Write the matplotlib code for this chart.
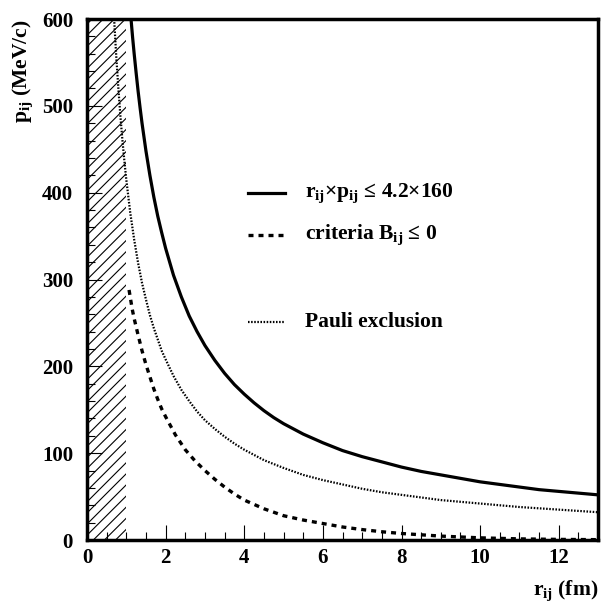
import matplotlib
matplotlib.use("Agg")
import matplotlib.pyplot as plt

plt.rcParams["font.family"] = "Liberation Serif"
plt.rcParams["font.weight"] = "bold"
plt.rcParams["mathtext.fontset"] = "custom"
plt.rcParams["mathtext.rm"] = "Liberation Serif:bold"
plt.rcParams["mathtext.it"] = "Liberation Serif:bold"
plt.rcParams["mathtext.bf"] = "Liberation Serif:bold"
plt.rcParams["hatch.linewidth"] = 0.8

# r_ij x p_ij <= 4.2 x 160
R_SOLID = [1.12, 1.16, 1.2, 1.25, 1.3, 1.35, 1.4, 1.5, 1.6, 1.7, 1.8, 1.9, 2.0,
           2.2, 2.4, 2.6, 2.8, 3.0, 3.25, 3.5, 3.75, 4.0, 4.25, 4.5, 4.75, 5.0,
           5.5, 6.0, 6.5, 7.0, 7.5, 8.0, 8.5, 9.0, 9.5, 10.0, 10.5, 11.0,
           11.5, 12.0, 12.5, 13.0]
P_SOLID = [600, 579, 560, 538, 517, 498, 480, 448, 420, 395, 373, 354, 336,
           305, 280, 258, 240, 224, 207, 192, 179, 168, 158, 149, 141, 134,
           122, 112, 103, 96, 90, 84, 79, 75, 71, 67, 64, 61,
           58, 56, 54, 52]

# criteria B_ij <= 0
R_DASH = [1.07, 1.15, 1.2, 1.3, 1.4, 1.5, 1.6, 1.7, 1.8, 1.9, 2.0, 2.25, 2.5,
          2.75, 3.0, 3.25, 3.5, 3.75, 4.0, 4.5, 5.0, 5.5, 6.0, 6.5, 7.0, 7.5,
          8.0, 9.0, 10.0, 11.0, 12.0, 13.0]
P_DASH = [288, 266, 255, 236, 218, 202, 188, 174, 162, 151, 142, 121, 104,
          91, 80, 70, 61, 53, 46, 36, 28, 23, 19, 15, 12, 9.5,
          7.5, 4.5, 2.5, 1.3, 0.7, 0.4]

# Pauli exclusion
R_DOT = [0.69, 0.72, 0.75, 0.8, 0.85, 0.9, 0.95, 1.0, 1.1, 1.2, 1.3, 1.4, 1.5,
         1.6, 1.7, 1.8, 1.9, 2.0, 2.2, 2.4, 2.6, 2.8, 3.0, 3.25, 3.5, 3.75,
         4.0, 4.5, 5.0, 5.5, 6.0, 6.5, 7.0, 7.5, 8.0, 9.0, 10.0, 11.0, 12.0,
         13.0]
P_DOT = [600, 576, 553, 519, 488, 461, 437, 415, 377, 346, 319, 296, 277,
         259, 244, 231, 218, 208, 189, 173, 160, 148, 138, 128, 119, 111,
         104, 92, 83, 75, 69, 64, 59, 55, 52, 46, 42, 38, 35, 32]

HATCH_X = [0, 1]

fig = plt.figure(figsize=(6.02, 6.14), dpi=100)
ax = fig.add_axes([0.1445, 0.1205, 0.849, 0.8485])

ax.fill_between(HATCH_X, 0, 600, facecolor="none", edgecolor="black",
                hatch="///", linewidth=0)
ax.plot(R_SOLID, P_SOLID, color="black", linewidth=2.3, solid_capstyle="butt")
ax.plot(R_DASH, P_DASH, color="black", linewidth=2.4, linestyle=(0, (1.5, 1.5)))
ax.plot(R_DOT, P_DOT, color="black", linewidth=1.6, linestyle=(0, (0.7, 0.7)))

# legend, drawn by hand
items = [
    (0.666, dict(linewidth=2.3), r"r$_{ij}$×p$_{ij}$ ≤ 4.2×160"),
    (0.585, dict(linewidth=2.4, linestyle=(0, (1.5, 1.5))), r"criteria B$_{ij}$ ≤ 0"),
    (0.418, dict(linewidth=1.6, linestyle=(0, (0.7, 0.7))), "Pauli exclusion"),
]
for y, style, label in items:
    ax.plot([0.315, 0.387], [y, y], transform=ax.transAxes, color="black", **style)
    ax.text(0.427, y, label, transform=ax.transAxes, fontsize=15.5,
            fontweight="bold", va="center", ha="left")

ax.set_xlim(0, 13)
ax.set_ylim(0, 600)
ax.set_xticks([0, 2, 4, 6, 8, 10, 12])
ax.set_xticks([x * 0.5 for x in range(27)], minor=True)
ax.set_yticks([0, 100, 200, 300, 400, 500, 600])
ax.set_yticks(range(0, 601, 20), minor=True)
ax.tick_params(which="both", direction="in", top=False, right=False,
               labelsize=15, width=0.8)
ax.tick_params(which="major", length=11)
ax.tick_params(which="minor", length=6)
ax.tick_params(axis="x", pad=6)
ax.tick_params(axis="y", pad=10)
for lbl in ax.get_xticklabels() + ax.get_yticklabels():
    lbl.set_fontweight("bold")
for s in ax.spines.values():
    s.set_linewidth(2.5)

fig.text(0.037, 0.968, r"p$_{ij}$ (MeV/c)", rotation=90, ha="center", va="top",
         fontsize=15.5, fontweight="bold")
fig.text(0.993, 0.018, r"r$_{ij}$ (fm)", ha="right", va="bottom",
         fontsize=15.5, fontweight="bold")

fig.savefig("out.png", dpi=100)
